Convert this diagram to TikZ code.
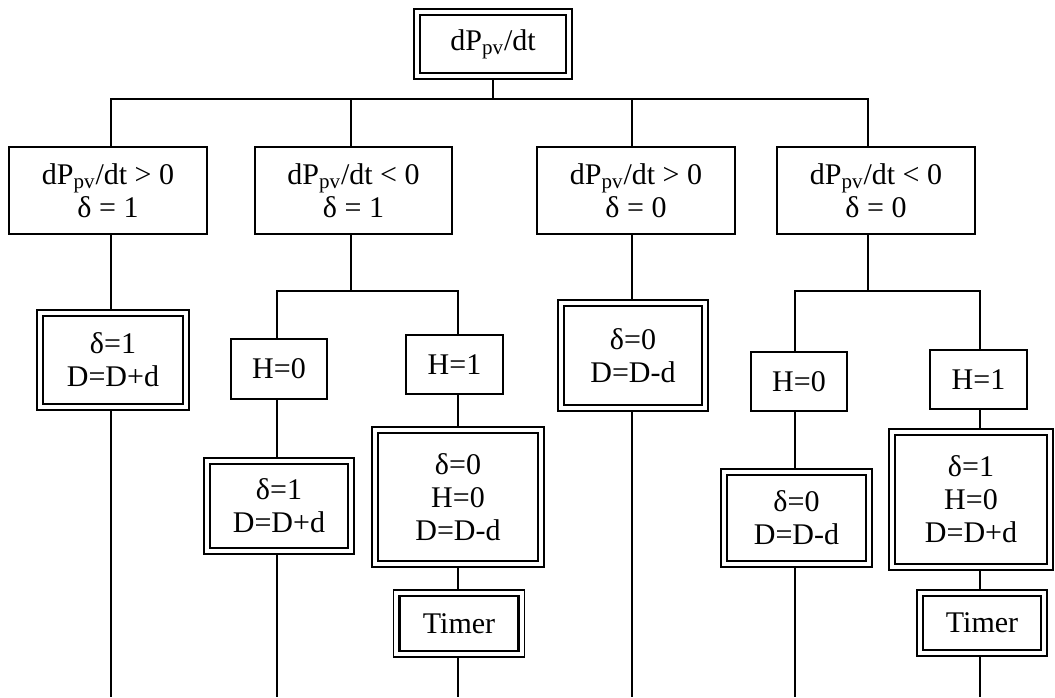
\documentclass[tikz,border=0pt]{standalone}
\usepackage{fontspec}
\setmainfont{Liberation Serif}
\begin{document}
\begin{tikzpicture}[x=0.5pt,y=-0.5pt,
  every node/.style={font=\fontsize{15}{16.5}\selectfont, align=center, inner sep=0pt},
  sbox/.style={draw, line width=0.7pt},
  dbox/.style={draw, line width=0.8pt,
    path picture={\draw[line width=1.4pt]
      ([xshift=3pt,yshift=-3pt]path picture bounding box.north west) rectangle
      ([xshift=-3pt,yshift=3pt]path picture bounding box.south east);}},
  conn/.style={line width=0.7pt}]
\useasboundingbox (0,0) rectangle (1055,697);

% nodes
\node[dbox, minimum width=79pt, minimum height=35pt] (top) at (493,44) {dP\textsubscript{pv}/dt};

\node[sbox, minimum width=99pt, minimum height=43.5pt] (L1) at (108,190.5) {dP\textsubscript{pv}/dt > 0\\δ = 1};
\node[sbox, minimum width=98.5pt, minimum height=43.5pt] (L2) at (353.5,190.5) {dP\textsubscript{pv}/dt < 0\\δ = 1};
\node[sbox, minimum width=99pt, minimum height=43.5pt] (L3) at (636,190.5) {dP\textsubscript{pv}/dt > 0\\δ = 0};
\node[sbox, minimum width=99pt, minimum height=43.5pt] (L4) at (876,190.5) {dP\textsubscript{pv}/dt < 0\\δ = 0};

\node[dbox, minimum width=76pt, minimum height=50pt] (A1) at (113,360) {δ=1\\D=D+d};

\node[sbox, minimum width=48pt, minimum height=30pt] (H0a) at (279,369) {H=0};
\node[sbox, minimum width=48.5pt, minimum height=29.5pt] (H1a) at (454.5,364.5) {H=1};
\node[dbox, minimum width=75pt, minimum height=48pt] (B1) at (279,506) {δ=1\\D=D+d};
\node[dbox, minimum width=86pt, minimum height=70pt] (C1) at (458,497) {δ=0\\H=0\\D=D-d};
\node[dbox, minimum width=65.5pt, minimum height=33.5pt] (T1) at (459,623.5) {Timer};

\node[dbox, minimum width=75pt, minimum height=55.5pt] (M1) at (633,355.5) {δ=0\\D=D-d};

\node[sbox, minimum width=48pt, minimum height=29.5pt] (H0b) at (799,381.5) {H=0};
\node[sbox, minimum width=48.5pt, minimum height=29.5pt] (H1b) at (978.5,379.5) {H=1};
\node[dbox, minimum width=75.5pt, minimum height=49pt] (B2) at (796.5,518) {δ=0\\D=D-d};
\node[dbox, minimum width=82pt, minimum height=70.5pt] (C2) at (971,499.5) {δ=1\\H=0\\D=D+d};
\node[dbox, minimum width=65pt, minimum height=33pt] (T2) at (982,623) {Timer};

% junction coordinates
\coordinate (j1) at (111,99);
\coordinate (j2) at (351,99);
\coordinate (j3) at (632,99);
\coordinate (j4) at (868,99);
\coordinate (k2a) at (277,291);
\coordinate (k2) at (351,291);
\coordinate (k2b) at (458,291);
\coordinate (k4a) at (795,291);
\coordinate (k4) at (868,291);
\coordinate (k4b) at (980,291);
\coordinate (bot) at (0,697);

% connectors
\draw[conn] (top.south) -- (top.south |- j1);
\draw[conn] (j1 |- L1.north) -- (j1) -- (j4) -- (j4 |- L4.north);
\draw[conn] (j2) -- (j2 |- L2.north);
\draw[conn] (j3) -- (j3 |- L3.north);

\draw[conn] (j1 |- L1.south) -- (j1 |- A1.north);
\draw[conn] (j1 |- A1.south) -- (j1 |- bot);

\draw[conn] (j2 |- L2.south) -- (k2);
\draw[conn] (k2a |- H0a.north) -- (k2a) -- (k2b) -- (k2b |- H1a.north);
\draw[conn] (k2a |- H0a.south) -- (k2a |- B1.north);
\draw[conn] (k2a |- B1.south) -- (k2a |- bot);
\draw[conn] (k2b |- H1a.south) -- (k2b |- C1.north);
\draw[conn] (k2b |- C1.south) -- (k2b |- T1.north);
\draw[conn] (k2b |- T1.south) -- (k2b |- bot);

\draw[conn] (j3 |- L3.south) -- (j3 |- M1.north);
\draw[conn] (j3 |- M1.south) -- (j3 |- bot);

\draw[conn] (j4 |- L4.south) -- (k4);
\draw[conn] (k4a |- H0b.north) -- (k4a) -- (k4b) -- (k4b |- H1b.north);
\draw[conn] (k4a |- H0b.south) -- (k4a |- B2.north);
\draw[conn] (k4a |- B2.south) -- (k4a |- bot);
\draw[conn] (k4b |- H1b.south) -- (k4b |- C2.north);
\draw[conn] (k4b |- C2.south) -- (k4b |- T2.north);
\draw[conn] (k4b |- T2.south) -- (k4b |- bot);
\end{tikzpicture}
\end{document}
